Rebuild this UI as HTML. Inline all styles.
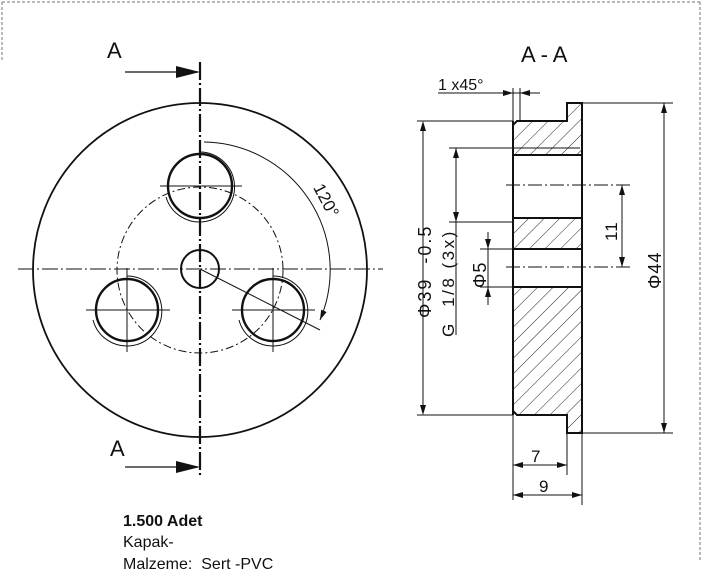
<!DOCTYPE html>
<html><head><style>
html,body{margin:0;padding:0;background:#fff;width:703px;height:581px;overflow:hidden}
svg{display:block}
text{font-family:"Liberation Sans",sans-serif;fill:#111}
</style></head><body>
<svg width="703" height="581" viewBox="0 0 703 581" xmlns="http://www.w3.org/2000/svg">
<defs>
<pattern id="h" width="11" height="11" patternUnits="userSpaceOnUse" patternTransform="rotate(45)">
<line x1="0" y1="0" x2="0" y2="11" stroke="#222" stroke-width="1"/>
</pattern>
<marker id="a" markerWidth="10" markerHeight="6" refX="10" refY="3" orient="auto" markerUnits="userSpaceOnUse"><path d="M0,0L10,3L0,6z" fill="#111"/></marker>
</defs>
<g stroke="#777" stroke-width="1" stroke-dasharray="3,2" fill="none">
<line x1="2" y1="2" x2="701" y2="2"/><line x1="2" y1="2" x2="2" y2="60"/><line x1="700" y1="2" x2="700" y2="560"/>
</g>
<g fill="none" stroke="#111">
<circle cx="200" cy="270" r="167" stroke-width="1.8"/>
<circle cx="200" cy="270" r="83" stroke-width="1" stroke-dasharray="8,3,2,3"/>
<circle cx="200" cy="269" r="19" stroke-width="2"/>
<circle cx="200" cy="186" r="32" stroke-width="2.4"/>
<path d="M200,152 A35,35 0 1 1 166,197" stroke-width="1"/>
<circle cx="127" cy="310" r="31" stroke-width="2.4"/>
<path d="M127,276 A35,35 0 1 1 93,320" stroke-width="1"/>
<circle cx="273" cy="310" r="31" stroke-width="2.4"/>
<path d="M273,276 A35,35 0 1 1 239,320" stroke-width="1"/>
<g stroke-width="1">
<line x1="160" y1="186" x2="242" y2="186"/>
<line x1="86" y1="310" x2="170" y2="310"/><line x1="127" y1="268" x2="127" y2="352"/>
<line x1="232" y1="310" x2="315" y2="310"/><line x1="273" y1="268" x2="273" y2="352"/>
<line x1="200" y1="269" x2="320" y2="330"/>
<path d="M204,142 A128,128 0 0 1 320,320" marker-end="url(#a)"/>
</g>
<line x1="18" y1="269" x2="383" y2="269" stroke-width="1" stroke-dasharray="16,3,2,3"/>
<line x1="200" y1="62" x2="200" y2="478" stroke-width="2.2" stroke-dasharray="18,3,2,3"/>
<line x1="125" y1="72" x2="198" y2="72" stroke-width="1.2"/>
<line x1="125" y1="467" x2="198" y2="467" stroke-width="1.2"/>
</g>
<path d="M176,66L200,72L176,78z" fill="#111"/>
<path d="M176,461L200,467L176,473z" fill="#111"/>
<text x="107" y="58" font-size="22">A</text>
<text x="110" y="456" font-size="22">A</text>
<text x="303" y="196" font-size="17" transform="rotate(62 315 200)">120°</text>
<text x="521" y="62" font-size="22">A - A</text>
<path d="M517,121 L567,121 L567,103 L582,103 L582,433 L567,433 L567,415 L517,415 L513,411 L513,125 Z" fill="url(#h)" stroke="#111" stroke-width="2"/>
<rect x="514" y="155" width="67" height="63" fill="#fff"/>
<rect x="514" y="249" width="67" height="38" fill="#fff"/>
<g stroke="#111" fill="none">
<line x1="513" y1="155" x2="582" y2="155" stroke-width="2"/>
<line x1="513" y1="218" x2="582" y2="218" stroke-width="2"/>
<line x1="513" y1="249" x2="582" y2="249" stroke-width="2"/>
<line x1="513" y1="287" x2="582" y2="287" stroke-width="2"/>
<line x1="513" y1="121" x2="513" y2="415" stroke-width="2"/>
<line x1="582" y1="103" x2="582" y2="433" stroke-width="2"/>
<g stroke-width="1">
<line x1="449" y1="148" x2="580" y2="148"/>
<line x1="449" y1="222" x2="513" y2="222"/>
<line x1="506" y1="185" x2="632" y2="185" stroke-dasharray="14,3,2,3"/>
<line x1="506" y1="267" x2="632" y2="267" stroke-dasharray="14,3,2,3"/>
<line x1="417" y1="121" x2="513" y2="121"/>
<line x1="417" y1="415" x2="513" y2="415"/>
<line x1="582" y1="103" x2="673" y2="103"/>
<line x1="582" y1="433" x2="673" y2="433"/>
<line x1="480" y1="249" x2="513" y2="249"/>
<line x1="480" y1="287" x2="513" y2="287"/>
<line x1="423" y1="128" x2="423" y2="408"/>
<line x1="456" y1="148" x2="456" y2="335"/>
<line x1="488" y1="232" x2="488" y2="305"/>
<line x1="622" y1="185" x2="622" y2="267"/>
<line x1="664" y1="103" x2="664" y2="433"/>
<line x1="513" y1="415" x2="513" y2="500"/>
<line x1="567" y1="433" x2="567" y2="475"/>
<line x1="582" y1="433" x2="582" y2="505"/>
<line x1="513" y1="465" x2="567" y2="465"/>
<line x1="513" y1="495" x2="582" y2="495"/>
<line x1="513" y1="88" x2="513" y2="121"/>
<line x1="520" y1="88" x2="520" y2="121"/>
<line x1="438" y1="93" x2="540" y2="93"/>
</g>
</g>
<g fill="#111">
<path d="M423,121l-3,10h6z"/><path d="M423,415l-3,-10h6z"/>
<path d="M456,148l-3,10h6z"/><path d="M456,222l-3,-10h6z"/>
<path d="M488,249l-3,-10h6z"/><path d="M488,287l-3,10h6z"/>
<path d="M622,185l-3,10h6z"/><path d="M622,267l-3,-10h6z"/>
<path d="M664,103l-3,10h6z"/><path d="M664,433l-3,-10h6z"/>
<path d="M513,465l10,-3v6z"/><path d="M567,465l-10,-3v6z"/>
<path d="M513,495l10,-3v6z"/><path d="M582,495l-10,-3v6z"/>
<path d="M513,93l-10,-3v6z"/><path d="M520,93l10,-3v6z"/>
</g>
<text x="438" y="90" font-size="16">1 x45°</text>
<text font-size="18" letter-spacing="2" xml:space="preserve" transform="translate(431,318) rotate(-90)">Φ39  -0.5</text>
<text font-size="17" letter-spacing="2.5" xml:space="preserve" transform="translate(454,337) rotate(-90)">G  1/8 (3x)</text>
<text font-size="18" letter-spacing="1" transform="translate(486,288) rotate(-90)">Φ5</text>
<text font-size="17" letter-spacing="1" transform="translate(617,241) rotate(-90)">11</text>
<text font-size="18" letter-spacing="1" transform="translate(661,289) rotate(-90)">Φ44</text>
<text x="531" y="462" font-size="17">7</text>
<text x="539" y="492" font-size="17">9</text>
<text x="123" y="526" font-size="16" font-weight="bold">1.500 Adet</text>
<text x="123" y="547" font-size="16">Kapak-</text>
<text x="123" y="569" font-size="16" xml:space="preserve">Malzeme:  Sert -PVC</text>
</svg>
</body></html>
